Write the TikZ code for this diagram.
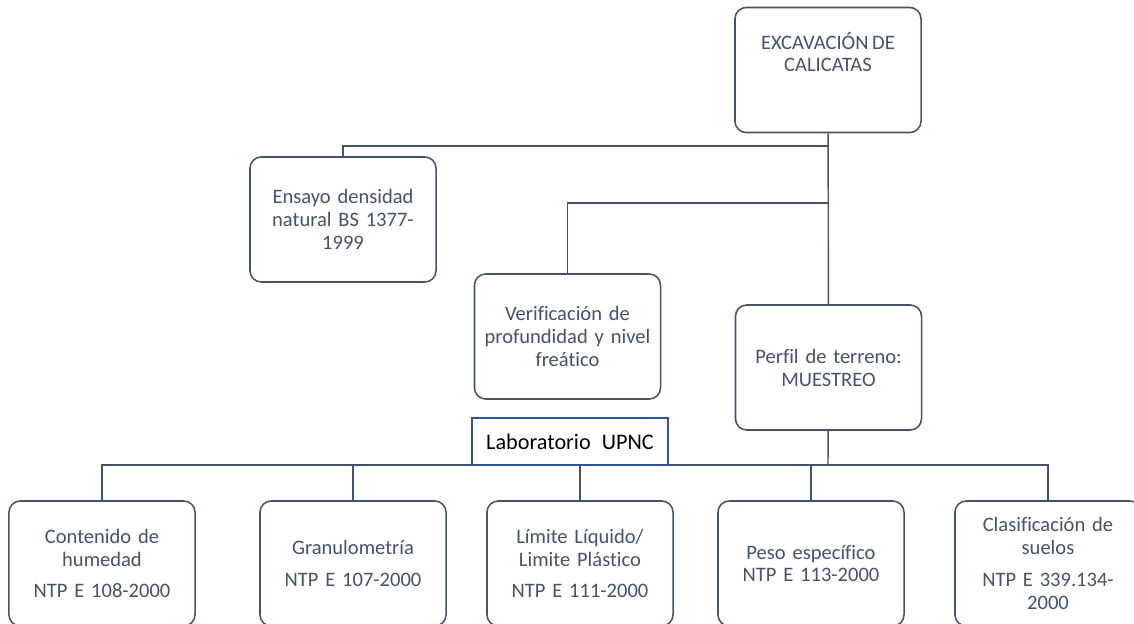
\documentclass[tikz,border=0pt]{standalone}
\usepackage{fontspec}
\setmainfont{Carlito}[WordSpace=0.8, Ligatures=NoCommon]
\usepackage{tikz}
\usetikzlibrary{positioning}

\definecolor{slate}{HTML}{44546A}
\definecolor{labblue}{HTML}{2F5597}

\tikzset{
    box/.style={draw=slate, line width=1.1pt, rounded corners=8pt, fill=white,
        minimum width=4.65cm, minimum height=3.125cm, text width=4.3cm,
        align=center, text=slate, font=\fontsize{14.6}{16.3}\selectfont},
    link/.style={draw=slate, line width=1pt},
}

\begin{document}
\begin{tikzpicture}[x=0.025cm, y=-0.025cm]
    \useasboundingbox (0,0) rectangle (1134,624);

    % Top part
    \node[box, text=white] (excav) at (828,70) {};
    \node[text=slate, align=center, font=\fontsize{14.6}{16.3}\selectfont] (excavtxt) at (828,52) {EXCAVACIÓN DE\\CALICATAS};
    \node[box] (ensayo) at (343,219.5) {Ensayo densidad\\natural BS 1377-\\1999};
    \node[box] (verif) at (567.5,336.5) {Verificación de\\profundidad y nivel\\freático};
    \node[box] (perfil) at (828.5,367.5) {Perfil de terreno:\\MUESTREO};

    \coordinate (j1) at (828,146);
    \coordinate (j2) at (828,203);
    \draw[link] (excav) -- (perfil);
    \draw[link] (j1) -| (ensayo);
    \draw[link] (j2) -| (verif);

    % Laboratory tests
    \node[box] (hum) at (102,563.5) {Contenido de\\humedad\\[6pt]NTP E 108-2000};
    \node[box] (gran) at (353,563.5) {Granulometría\\[6pt]NTP E 107-2000};
    \node[box] (lim) at (580,563.5) {Límite Líquido/\\Limite Plástico\\[6pt]NTP E 111-2000};
    \node[box] (peso) at (811,563.5) {Peso específico\\NTP E 113-2000};
    \node[box] (clas) at (1048,563.5) {Clasificación de\\suelos\\[6pt]NTP E 339.134-\\2000};

    \coordinate (bus) at (828,465);
    \draw[link] (perfil) -- (bus);
    \foreach \t in {hum,gran,lim,peso,clas}
        \draw[link] (bus) -| (\t);

    \node[draw=labblue, line width=0.8pt, fill=white, minimum width=4.9cm, minimum height=1.175cm,
        font=\fontsize{15.8}{18}\selectfont] (lab) at (570,441.5) {Laboratorio\hspace{0.5em}UPNC};
\end{tikzpicture}
\end{document}
